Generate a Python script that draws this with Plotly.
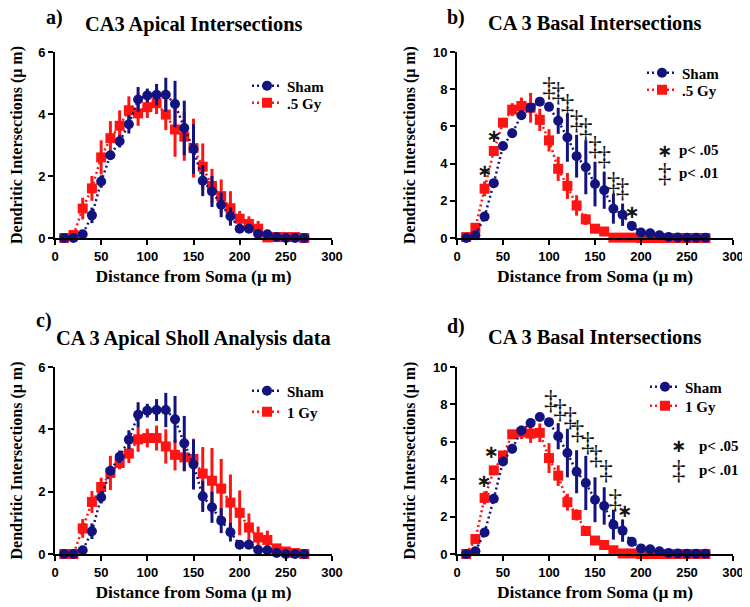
import plotly.graph_objects as go

# Sholl rings, 10 um apart
distance = list(range(10, 280, 10))

# apical, sham group (panels a and c)
apical_sham = [0, 0, 0.12, 0.73, 1.82, 2.67, 3.12, 3.67, 4.47, 4.6, 4.62, 4.62, 4.32, 3.55,
               2.87, 1.85, 1.5, 1.07, 0.7, 0.3, 0.3, 0.13, 0.12, 0.03, 0, 0, 0]
apical_sham_err = [0, 0, 0.05, 0.25, 0.2, 0.1, 0.2, 0.3, 0.4, 0.22, 0.35, 0.55, 0.75, 0.88,
                   0.8, 0.5, 0.5, 0.4, 0.3, 0.05, 0.05, 0.05, 0.05, 0.02, 0, 0, 0]
apical_05gy = [0, 0.1, 0.95, 1.6, 2.6, 3.22, 3.62, 4.12, 4.02, 4.22, 4.35, 3.98, 3.5, 3.27,
               2.9, 2.3, 1.68, 1.35, 0.96, 0.62, 0.45, 0.3, 0.02, 0.03, 0.03, 0.03, 0]
apical_05gy_err = [0, 0.05, 0.35, 0.4, 0.55, 0.55, 0.5, 0.45, 0.4, 0.35, 0.35, 0.5, 0.88, 0.78,
                   0.95, 0.75, 0.55, 0.54, 0.55, 0.25, 0.25, 0.25, 0.05, 0.03, 0.03, 0.03, 0]
apical_1gy = [0, 0, 0.82, 1.67, 2.15, 2.6, 2.92, 3.22, 3.68, 3.72, 3.72, 3.45, 3.18, 3.1,
              3.05, 2.58, 2.35, 2.1, 1.65, 1.32, 0.85, 0.53, 0.45, 0.18, 0.08, 0.03, 0]
apical_1gy_err = [0, 0, 0.3, 0.35, 0.3, 0.55, 0.2, 0.3, 0.4, 0.3, 0.4, 0.55, 0.5, 0.45,
                  0.65, 0.85, 1.05, 0.95, 0.9, 0.72, 0.45, 0.35, 0.3, 0.08, 0.05, 0.03, 0]

# basal, sham group (panels b and d)
basal_sham = [0, 0.15, 1.15, 2.95, 4.95, 5.63, 6.6, 7.0, 7.33, 7.05, 6.3, 5.4, 4.4, 3.8,
              2.9, 2.57, 1.57, 1.25, 0.65, 0.3, 0.25, 0.15, 0.05, 0.03, 0.02, 0.02, 0.02]
basal_sham_err = [0, 0.05, 0.1, 0.15, 0.2, 0.25, 0.25, 0.15, 0.15, 0.2, 0.7, 1.3, 1.15, 1.45,
                  1.2, 1.0, 0.8, 0.6, 0.25, 0.1, 0.05, 0.05, 0.03, 0.02, 0.02, 0.02, 0.02]
basal_05gy = [0.05, 0.55, 2.65, 4.68, 6.2, 6.9, 7.1, 7.0, 6.35, 5.25, 3.72, 2.8, 1.75, 1.0,
              0.5, 0.35, 0.02, 0.02, 0.02, 0, 0, 0, 0, 0, 0, 0, 0]
basal_05gy_err = [0, 0.1, 0.4, 0.25, 0.15, 0.35, 0.45, 0.8, 0.6, 0.6, 0.65, 0.7, 0.55, 0.3,
                  0.25, 0.15, 0, 0, 0, 0, 0, 0, 0, 0, 0, 0, 0]
basal_1gy = [0, 0.8, 3.0, 4.47, 5.27, 6.4, 6.5, 6.44, 6.48, 5.13, 4.19, 2.77, 2.09, 1.23,
             0.72, 0.48, 0.2, 0.03, 0.03, 0, 0, 0, 0, 0, 0, 0, 0]
basal_1gy_err = [0, 0.2, 0.35, 0.25, 0.2, 0.15, 0.35, 0.5, 0.5, 0.8, 0.55, 0.45, 0.3, 0.15,
                 0.1, 0.05, 0.05, 0, 0, 0, 0, 0, 0, 0, 0, 0, 0]

# significance marks (* p<.05, double dagger p<.01)
b_star_x = [30, 40, 190]
b_star_y = [3.5, 5.4, 1.3]
b_dagger_x = [100, 110, 120, 130, 140, 150, 160, 170, 180]
b_dagger_y = [8.0, 7.75, 7.1, 6.25, 5.8, 4.8, 4.3, 2.9, 2.55]
d_star_x = [29, 37, 182]
d_star_y = [3.8, 5.4, 2.2]
d_dagger_x = [102, 112, 123, 131, 142, 151, 162, 172]
d_dagger_y = [8.1, 7.65, 7.2, 6.5, 5.85, 5.15, 4.35, 2.8]

panels = [
    {"letter": "a)", "title": "CA3 Apical Intersections", "sham": apical_sham,
     "sham_err": apical_sham_err, "irr": apical_05gy, "irr_err": apical_05gy_err,
     "dose": ".5 Gy", "ymax": 6},
    {"letter": "b)", "title": "CA 3 Basal Intersections", "sham": basal_sham,
     "sham_err": basal_sham_err, "irr": basal_05gy, "irr_err": basal_05gy_err,
     "dose": ".5 Gy", "ymax": 10},
    {"letter": "c)", "title": "CA 3 Apical Sholl Analysis data", "sham": apical_sham,
     "sham_err": apical_sham_err, "irr": apical_1gy, "irr_err": apical_1gy_err,
     "dose": "1 Gy", "ymax": 6},
    {"letter": "d)", "title": "CA 3 Basal Intersections", "sham": basal_sham,
     "sham_err": basal_sham_err, "irr": basal_1gy, "irr_err": basal_1gy_err,
     "dose": "1 Gy", "ymax": 10},
]

# the page body adds an 8px margin, so the figure is drawn 8px smaller and
# every page position below is shifted back by that amount
OFF = 8
W, H = 750 - OFF, 607 - OFF
BLUE = "#13137f"
RED = "#ff1414"
SERIF = "Liberation Serif"
SANS = "Liberation Sans"
MARK = "#151515"


def px(x):
    return (x - OFF) / W


def py(y):
    return 1 - (y - OFF) / H


# plot boxes in page pixels: left, right, top, bottom
boxes = [(55, 332, 52, 238), (457, 733, 52, 238), (55, 332, 367, 554), (457, 733, 367, 554)]
# legend entries: left x, sham centre y, dose centre y
legend_pos = [(247, 86, 103), (642, 73, 90), (247, 391, 412), (645, 387, 406)]
title_pos = [(194, 24), (595, 23), (193, 338), (595, 337)]
letter_pos = [(54, 17), (456, 17), (44, 320), (456, 326)]

fig = go.Figure()
annotations = []
layout = {}

for i, p in enumerate(panels):
    n = "" if i == 0 else str(i + 1)
    xa, ya = "x" + n, "y" + n
    lg_irr, lg_sham = "legend" + str(2 * i + 2), "legend" + ("" if i == 0 else str(2 * i + 1))
    fig.add_trace(go.Scatter(
        x=distance, y=p["irr"], name=p["dose"], xaxis=xa, yaxis=ya, legend=lg_irr,
        mode="lines+markers", cliponaxis=False,
        line={"color": RED, "width": 2.5, "dash": "2px,3px"},
        marker={"symbol": "square", "size": 10, "color": RED},
        error_y={"type": "data", "array": p["irr_err"], "color": RED, "thickness": 3, "width": 0},
    ))
    fig.add_trace(go.Scatter(
        x=distance, y=p["sham"], name="Sham", xaxis=xa, yaxis=ya, legend=lg_sham,
        mode="lines+markers", cliponaxis=False,
        line={"color": BLUE, "width": 2.5, "dash": "2px,3px"},
        marker={"symbol": "circle", "size": 10, "color": BLUE},
        error_y={"type": "data", "array": p["sham_err"], "color": BLUE, "thickness": 3, "width": 0},
    ))

    l, r, t, b = boxes[i]
    axis_common = {
        "showline": True, "linecolor": "black", "linewidth": 2, "automargin": False,
        "ticks": "outside", "ticklen": 5, "tickwidth": 2, "tickcolor": "black",
        "showgrid": False, "zeroline": False,
        "tickfont": {"family": SANS, "size": 13, "color": "black", "weight": "bold"},
    }
    layout["xaxis" + n] = {
        **axis_common,
        "domain": [px(l), px(r)], "anchor": ya, "range": [0, 300],
        "tickvals": [0, 50, 100, 150, 200, 250, 300],
        "title": {"text": "Distance from Soma (\u03bc m)", "standoff": 7,
                  "font": {"family": SERIF, "size": 17.5, "color": "black", "weight": "bold"}},
    }
    layout["yaxis" + n] = {
        **axis_common,
        "domain": [py(b), py(t)], "anchor": xa, "range": [0, p["ymax"]], "dtick": 2,
        "title": {"text": "Dendritic Intersections (\u03bc m)",
                  "standoff": 20 if p["ymax"] == 6 else 13,
                  "font": {"family": SERIF, "size": 16, "color": "black", "weight": "bold"}},
    }
    lx, sy, dy = legend_pos[i]
    for name, cy in [(lg_sham, sy), (lg_irr, dy)]:
        layout[name] = {
            "x": px(lx), "y": py(cy), "xanchor": "left", "yanchor": "middle",
            "bgcolor": "rgba(0,0,0,0)", "itemwidth": 30,
            "font": {"family": SERIF, "size": 15, "color": "black", "weight": "bold"},
        }

    tx, ty = title_pos[i]
    annotations.append({"text": p["title"], "xref": "paper", "yref": "paper",
                        "x": px(tx), "y": py(ty), "showarrow": False,
                        "xanchor": "center", "yanchor": "middle",
                        "font": {"family": SERIF, "size": 20.4, "color": "black", "weight": "bold"}})
    lx, ly = letter_pos[i]
    annotations.append({"text": p["letter"], "xref": "paper", "yref": "paper",
                        "x": px(lx), "y": py(ly), "showarrow": False,
                        "xanchor": "center", "yanchor": "middle",
                        "font": {"family": SERIF, "size": 20, "color": "black", "weight": "bold"}})

STAR_FONT = {"family": "DejaVu Sans", "size": 18, "color": MARK, "weight": "bold"}
DAGGER_FONT = {"family": SERIF, "size": 27, "color": MARK}

# significance marks on the basal panels
for n, sx, sy, dx, dy in [("2", b_star_x, b_star_y, b_dagger_x, b_dagger_y),
                          ("4", d_star_x, d_star_y, d_dagger_x, d_dagger_y)]:
    fig.add_trace(go.Scatter(x=sx, y=sy, mode="text", text=["\u2217"] * len(sx),
                             textfont=STAR_FONT, xaxis="x" + n, yaxis="y" + n,
                             showlegend=False, cliponaxis=False))
    fig.add_trace(go.Scatter(x=dx, y=dy, mode="text", text=["\u2021"] * len(dx),
                             textfont=DAGGER_FONT, xaxis="x" + n, yaxis="y" + n,
                             showlegend=False, cliponaxis=False))

# key for the significance marks
key = [("2", 226, 4.73, 239, 3.5), ("4", 241, 5.78, 261, 4.5)]
for n, sx, sy, tx, dy in key:
    annotations.append({"text": "\u2217", "xref": "x" + n, "yref": "y" + n, "x": sx, "y": sy,
                        "showarrow": False, "font": STAR_FONT})
    annotations.append({"text": "p< .05", "xref": "x" + n, "yref": "y" + n, "x": tx, "y": sy,
                        "xanchor": "left", "showarrow": False,
                        "font": {"family": SERIF, "size": 15, "color": "black", "weight": "bold"}})
    annotations.append({"text": "\u2021", "xref": "x" + n, "yref": "y" + n, "x": sx, "y": dy,
                        "showarrow": False, "font": DAGGER_FONT})
    annotations.append({"text": "p< .01", "xref": "x" + n, "yref": "y" + n, "x": tx, "y": dy,
                        "xanchor": "left", "showarrow": False,
                        "font": {"family": SERIF, "size": 15, "color": "black", "weight": "bold"}})

fig.update_layout(
    width=W, height=H, margin={"l": 0, "r": 0, "t": 0, "b": 0, "autoexpand": False},
    paper_bgcolor="white", plot_bgcolor="white",
    annotations=annotations, showlegend=True, **layout,
)

fig.write_html("out.html")
